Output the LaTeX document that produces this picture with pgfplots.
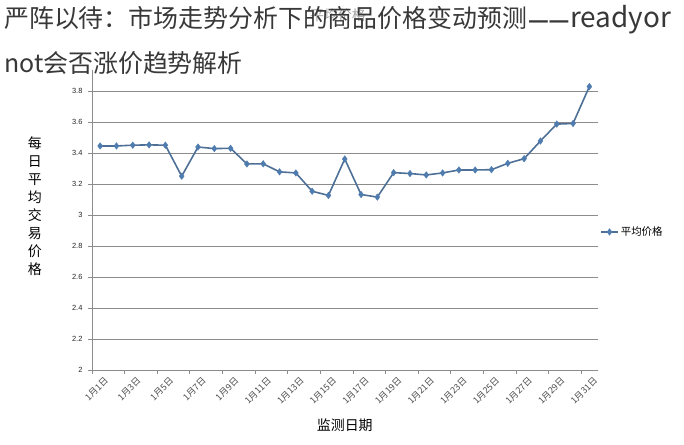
\documentclass[border=0pt]{standalone}
\usepackage{fontspec}
\setmainfont{Noto Sans CJK SC}
\newfontfamily\num{Liberation Sans}
\usepackage{pgfplots}
\pgfplotsset{compat=1.18}
\definecolor{serline}{RGB}{78,112,150}
\definecolor{sermark}{RGB}{79,124,175}
\definecolor{gridc}{RGB}{140,140,140}
\begin{document}
\begin{tikzpicture}[x=1bp,y=1bp]
\path[use as bounding box] (0,0) rectangle (684,445);
\node[anchor=center, inner sep=0, font=\fontsize{14}{16}\selectfont, text=black!35] at (338,430) {平均价格};
\begin{axis}[
  at={(92bp,75bp)}, anchor=south west,
  scale only axis, width=505.5bp, height=300bp,
  xmin=0.5, xmax=31.5, ymin=2, ymax=3.935,
  axis lines*=left,
  axis line style={gridc, line width=0.8pt},
  ytick={2,2.2,2.4,2.6,2.8,3,3.2,3.4,3.6,3.8},
  yticklabels={2,2.2,2.4,2.6,2.8,3,3.2,3.4,3.6,3.8},
  ymajorgrids,
  grid style={gridc, line width=0.8pt},
  tick align=outside,
  major tick length=4bp, minor tick length=4bp,
  ytick style={gridc, line width=0.8pt},
  xtick={1,3,...,31},
  xticklabels={1月1日,1月3日,1月5日,1月7日,1月9日,1月11日,1月13日,1月15日,1月17日,1月19日,1月21日,1月23日,1月25日,1月27日,1月29日,1月31日},
  major x tick style={draw=none},
  minor xtick={0.5,2.5,...,30.5},
  minor x tick style={gridc, line width=0.8pt},
  xticklabel style={rotate=45, anchor=north east, font=\fontsize{9}{10}\selectfont, text=black!70, inner sep=1pt, yshift=-3bp, xshift=2bp},
  yticklabel style={font=\num\fontsize{7.5}{9}\selectfont, text=black!85, xshift=-2bp},
  /pgf/number format/assume math mode=true,
  ylabel={\begin{tabular}{@{}c@{}}每\\日\\平\\均\\交\\易\\价\\格\end{tabular}},
  ylabel style={rotate=-90, at={(axis description cs:-0.113,0.54)}, anchor=center, font=\fontsize{14}{18}\selectfont},
  xlabel={监测日期},
  xlabel style={at={(axis description cs:0.5,-0.183)}, anchor=center, font=\fontsize{14}{16}\selectfont},
  legend style={at={(axis description cs:1.003,0.46)}, anchor=west, draw=none, fill=none, font=\fontsize{10.5}{12}\selectfont, inner sep=1pt},
  legend cell align=left,
  clip=false,
]
\addplot[serline, line width=1.6pt, mark=diamond*, mark size=3.3pt, mark options={fill=sermark, draw=sermark, line width=0.4pt}] coordinates {
(1,3.445) (2,3.445) (3,3.45) (4,3.452) (5,3.45) (6,3.25) (7,3.438) (8,3.428)
(9,3.43) (10,3.329) (11,3.33) (12,3.278) (13,3.271) (14,3.153) (15,3.126)
(16,3.361) (17,3.132) (18,3.115) (19,3.273) (20,3.267) (21,3.258) (22,3.271)
(23,3.29) (24,3.29) (25,3.292) (26,3.333) (27,3.363) (28,3.477) (29,3.586)
(30,3.59) (31,3.828)
};
\addlegendentry{平均价格}
\end{axis}
\node[anchor=base west, inner sep=0, font=\fontsize{25}{30}\selectfont, text=black!78] at (4,417) {严阵以待：市场走势分析下的商品价格变动预测{\num\fontsize{34}{30}\selectfont\kern2bp\raisebox{-2.5bp}{–\kern1.5bp–}\kern2bp}{\fontsize{28}{30}\selectfont readyor}};
\node[anchor=base west, inner sep=0, font=\fontsize{25}{30}\selectfont, text=black!78] at (4,372) {not会否涨价趋势解析};
\end{tikzpicture}
\end{document}
